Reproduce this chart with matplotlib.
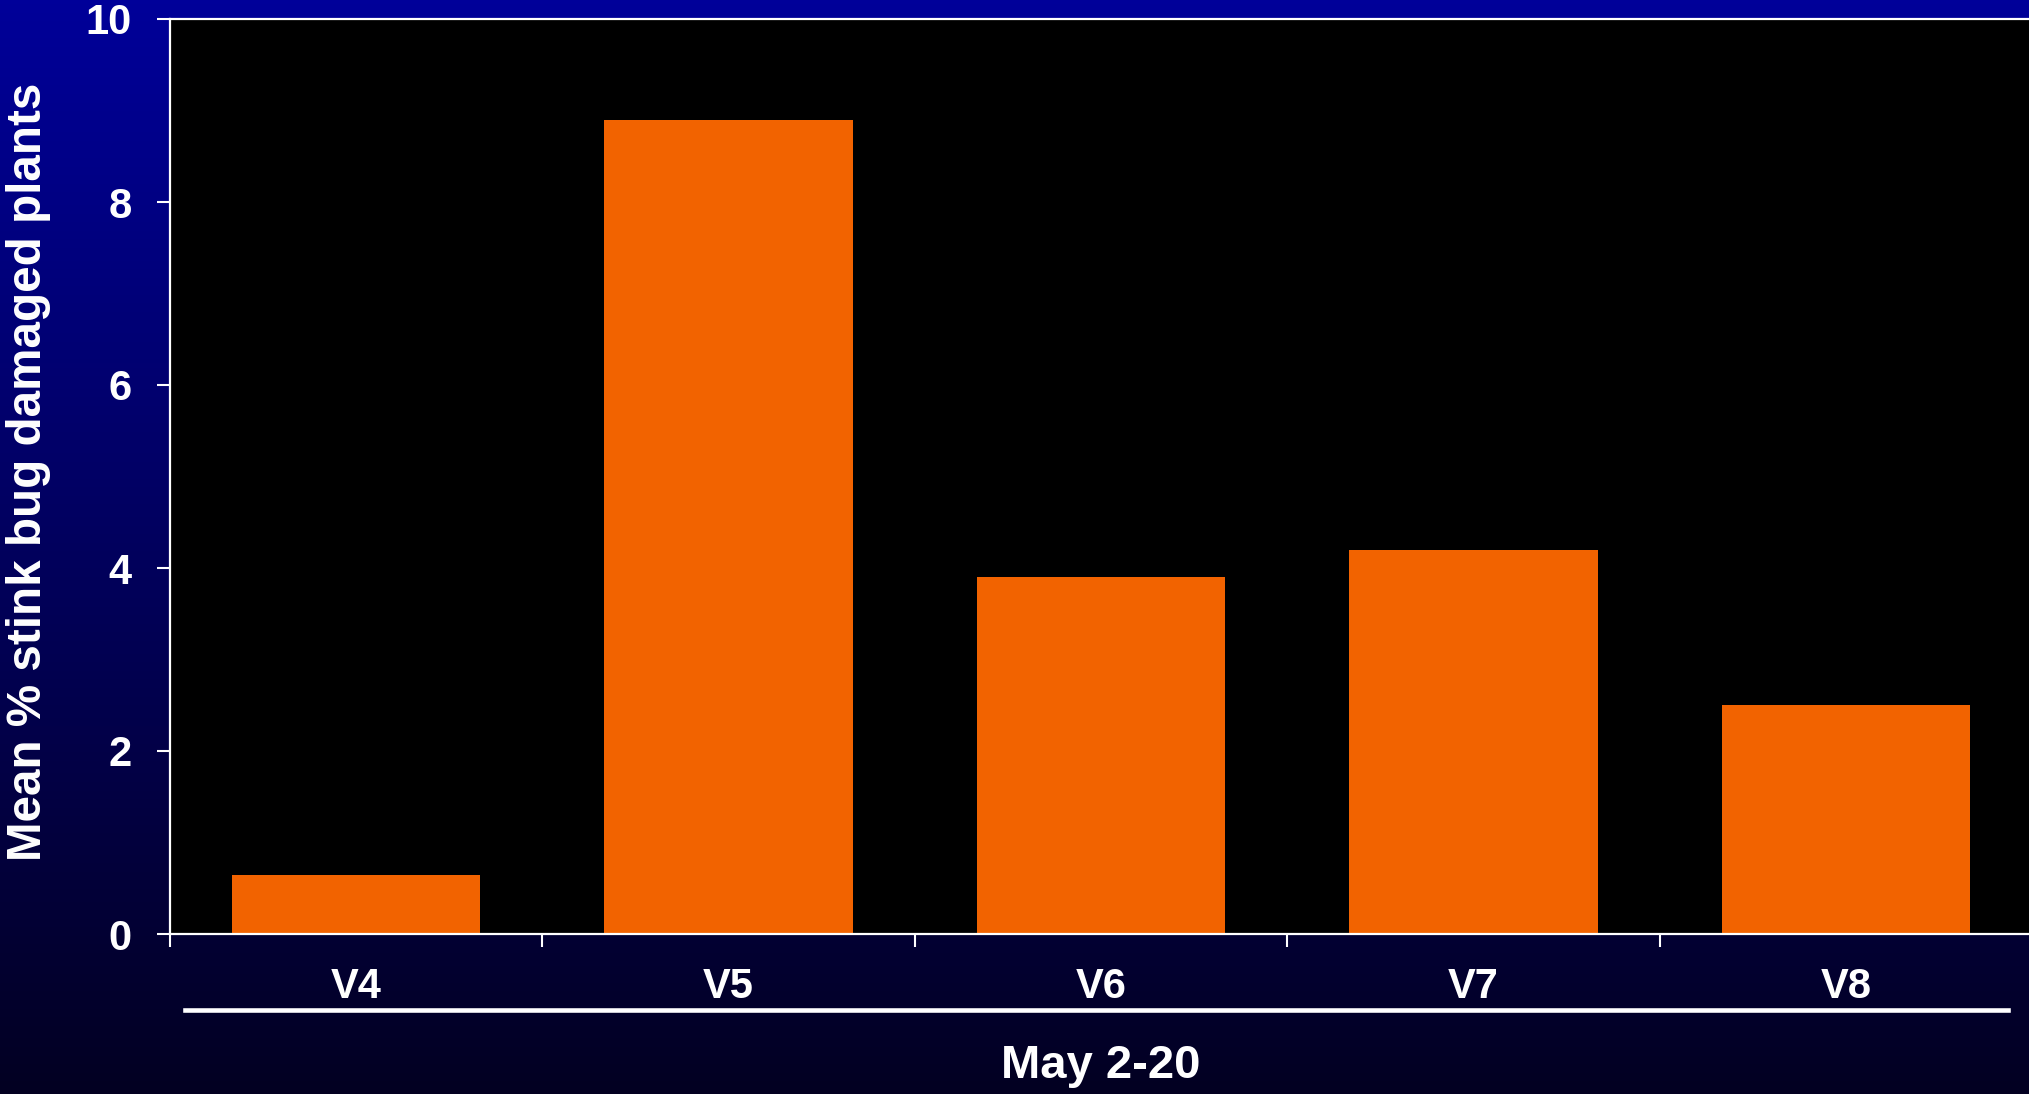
import numpy as np
from matplotlib import pyplot as plt
from matplotlib.lines import Line2D

# dados
estagios = ['V4', 'V5', 'V6', 'V7', 'V8']
danoMedio = [0.65, 8.9, 3.9, 4.2, 2.5]
yTicks = [0, 2, 4, 6, 8, 10]

plt.rcParams['font.family'] = ['Liberation Sans', 'DejaVu Sans']
plt.rcParams['font.weight'] = 'bold'

W, H = 2029, 1094
fig = plt.figure(figsize=(W / 100, H / 100), dpi=100)

# fundo em degrade azul
fundo = fig.add_axes([0, 0, 1, 1], zorder=-10)
grad = np.linspace(0, 1, 256).reshape(-1, 1)
topo = np.array([0, 0, 153]) / 255
base = np.array([3, 0, 34]) / 255
cores = topo + (base - topo) * grad[:, :, None]
fundo.imshow(cores, aspect='auto', extent=[0, 1, 0, 1])
fundo.set_axis_off()

esq, dir_, cima, baixo = 170, 2032, 19, 934
ax = fig.add_axes([esq / W, 1 - baixo / H, (dir_ - esq) / W, (baixo - cima) / H])
ax.set_facecolor('black')

x = np.arange(len(estagios))
ax.bar(x, danoMedio, width=0.667, color='#F26300', zorder=2)
ax.set_xlim(-0.5, len(estagios) - 0.5)
ax.set_ylim(0, 10)

ax.set_yticks(yTicks)
ax.set_yticklabels([str(v) for v in yTicks])
# rotulos centrados nas barras, tracos nas divisas
ax.set_xticks(x, minor=True)
ax.set_xticklabels(estagios, minor=True)
ax.set_xticks(np.append(x - 0.5, x[-1] + 0.5))
ax.set_xticklabels([])

ax.tick_params(axis='both', which='major', colors='white', length=9.5, width=1.5,
               labelsize=30, pad=18, direction='out')
ax.tick_params(axis='x', which='minor', length=0, labelsize=30, labelcolor='white', pad=24)
for lbl in ax.get_xticklabels(minor=True) + ax.get_yticklabels():
    lbl.set_fontweight('bold')

for lado in ['left', 'bottom', 'top']:
    ax.spines[lado].set_color('white')
    ax.spines[lado].set_linewidth(1.6)
ax.spines['right'].set_visible(False)

# linha abaixo dos estagios
fig.add_artist(Line2D([185 / W, 2008 / W], [1 - 1010 / H, 1 - 1010 / H],
                      color='white', linewidth=3.3))

fig.text(1101 / W, 1 - 1066 / H, 'May 2-20', color='white', fontsize=34,
         fontweight='bold', ha='center', va='center')
fig.text(29 / W, 1 - 472 / H, 'Mean % stink bug damaged plants', color='white',
         fontsize=34.3, fontweight='bold', rotation=90, ha='center', va='center')

fig.savefig('out.png', dpi=100)
